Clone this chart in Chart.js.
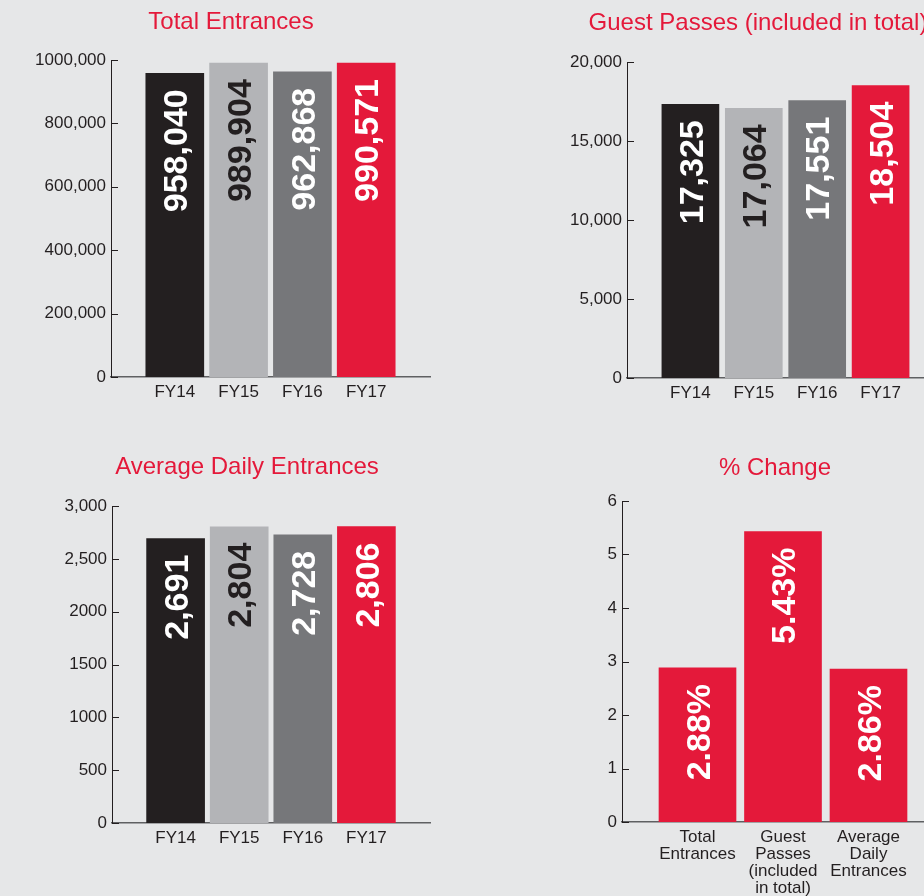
<!DOCTYPE html>
<html>
<head>
<meta charset="utf-8">
<script src="https://cdn.jsdelivr.net/npm/chart.js@4.4.1/dist/chart.umd.min.js"></script>
<style>
  body { margin: 0; width: 924px; height: 896px; overflow: hidden; background: #e6e7e8; position: relative; }
  canvas { position: absolute; }
</style>
</head>
<body>
<canvas id="totalChart"></canvas>
<canvas id="guestChart"></canvas>
<canvas id="dailyChart"></canvas>
<canvas id="changeChart"></canvas>
<script>
// Values
const years = ['FY14', 'FY15', 'FY16', 'FY17'];
const totalEntrances = [958040, 989904, 962868, 990571];
const guestPasses = [17325, 17064, 17551, 18504];
const dailyEntrances = [2691, 2804, 2728, 2806];
const changeCategories = [['Total', 'Entrances'], ['Guest', 'Passes', '(included', 'in total)'], ['Average', 'Daily', 'Entrances']];
const changePercent = [2.88, 5.43, 2.86];

// Tick labels as printed (note the odd "1000,000" / "2000" formatting)
const totalTicks = ['0', '200,000', '400,000', '600,000', '800,000', '1000,000'];
const guestTicks = ['0', '5,000', '10,000', '15,000', '20,000'];
const dailyTicks = ['0', '500', '1000', '1500', '2000', '2,500', '3,000'];
const changeTicks = ['0', '1', '2', '3', '4', '5', '6'];

const RED = '#e4193a';
const INK = '#231f20';
const yearColors = [INK, '#b3b4b7', '#76777a', RED];
const yearTextColors = ['#ffffff', INK, '#ffffff', '#ffffff'];
const FONT = "'Liberation Sans', Arial, sans-serif";

Chart.defaults.font.family = FONT;
Chart.defaults.color = INK;
Chart.defaults.animation = false;

// short tick marks that point into the plot
const innerTicks = {
    id: 'innerTicks',
    afterDraw(chart) {
        const y = chart.scales.y;
        const ctx = chart.ctx;
        const left = chart.chartArea.left;
        ctx.save();
        ctx.strokeStyle = INK;
        ctx.lineWidth = 1;
        y.ticks.forEach(t => {
            const py = Math.round(y.getPixelForValue(t.value)) + 0.5;
            ctx.beginPath();
            ctx.moveTo(left, py);
            ctx.lineTo(left + 7, py);
            ctx.stroke();
        });
        ctx.restore();
    }
};

// big value written up each bar, just under its top
const barValues = {
    id: 'barValues',
    afterDatasetsDraw(chart) {
        const ctx = chart.ctx;
        const ds = chart.data.datasets[0];
        const meta = chart.getDatasetMeta(0);
        const size = 34;
        ctx.save();
        ctx.font = 'bold ' + size + 'px ' + FONT;
        ctx.textAlign = 'right';
        ctx.textBaseline = 'alphabetic';
        meta.data.forEach((bar, i) => {
            ctx.save();
            ctx.translate(bar.x, bar.y + 16);
            ctx.rotate(-Math.PI / 2);
            ctx.fillStyle = ds.textColors[i];
            ctx.fillText(ds.format(ds.data[i].y), 0, size * 0.358);
            ctx.restore();
        });
        ctx.restore();
    }
};

function makeChart(cfg) {
    const canvas = document.getElementById(cfg.id);
    canvas.width = cfg.box.width;
    canvas.height = cfg.box.height;
    canvas.style.left = cfg.box.left + 'px';
    canvas.style.top = cfg.box.top + 'px';

    const titleSize = 24;
    const lineH = titleSize * 1.2;
    const padTop = cfg.titleY - cfg.box.top - lineH / 2;
    const padBottom = cfg.area.top - cfg.box.top - padTop - lineH;
    const rightGap = cfg.box.left + cfg.box.width - cfg.area.right;

    return new Chart(canvas, {
        type: 'bar',
        data: {
            datasets: [{
                data: cfg.values.map((v, i) => ({ x: i, y: v })),
                backgroundColor: cfg.colors,
                barThickness: cfg.barWidth,
                borderWidth: 0,
                textColors: cfg.textColors,
                format: cfg.format
            }]
        },
        options: {
            responsive: false,
            layout: { padding: 0 },
            plugins: {
                legend: { display: false },
                tooltip: { enabled: false },
                title: {
                    display: true,
                    text: cfg.title,
                    color: RED,
                    font: { size: titleSize, weight: 'normal', lineHeight: 1.2 },
                    padding: { top: padTop, bottom: padBottom }
                }
            },
            scales: {
                x: {
                    type: 'linear',
                    offset: false,
                    min: cfg.xMin,
                    max: cfg.xMax,
                    grid: { display: false, drawTicks: false },
                    border: { display: true, color: '#5f6062', width: 1.5 },
                    afterBuildTicks: s => { s.ticks = cfg.labels.map((l, i) => ({ value: i })); },
                    afterFit: s => { s.height = cfg.box.top + cfg.box.height - cfg.area.bottom; },
                    ticks: {
                        callback: v => cfg.labels[v],
                        padding: 6.5,
                        maxRotation: 0,
                        autoSkip: false,
                        color: INK,
                        font: { size: 17, lineHeight: 1.0 }
                    }
                },
                y: {
                    min: 0,
                    max: cfg.step * (cfg.ticks.length - 1),
                    afterBuildTicks: s => { s.ticks = cfg.ticks.map((t, i) => ({ value: i * cfg.step })); },
                    afterFit: s => { s.width = cfg.area.left - cfg.box.left; },
                    grid: { display: false, drawTicks: false },
                    border: { display: true, color: INK, width: 1 },
                    ticks: {
                        callback: v => cfg.ticks[Math.round(v / cfg.step)],
                        padding: 5,
                        color: INK,
                        font: { size: 17 }
                    }
                },
                // empty box on the right so the plot ends where the print does
                // while the title stays centred on the whole canvas
                pad: {
                    position: 'right',
                    grid: { display: false, drawTicks: false },
                    border: { display: false },
                    ticks: { display: false },
                    afterFit: s => { s.width = rightGap; }
                }
            }
        },
        plugins: [innerTicks, barValues]
    });
}

const commas = v => v.toLocaleString('en-US');

makeChart({
    id: 'totalChart', title: 'Total Entrances',
    box: { left: 0, top: 0, width: 462, height: 417 },
    area: { left: 111, right: 430, top: 60, bottom: 377 },
    titleY: 22, xMin: -1, xMax: 4, barWidth: 58,
    labels: years, values: totalEntrances, ticks: totalTicks, step: 200000,
    colors: yearColors, textColors: yearTextColors, format: commas
});

makeChart({
    id: 'guestChart', title: 'Guest Passes (included in total)',
    box: { left: 516, top: 0, width: 484, height: 417 },
    area: { left: 627, right: 944, top: 62, bottom: 378 },
    titleY: 23, xMin: -1, xMax: 4, barWidth: 57,
    labels: years, values: guestPasses, ticks: guestTicks, step: 5000,
    colors: yearColors, textColors: yearTextColors, format: commas
});

makeChart({
    id: 'dailyChart', title: 'Average Daily Entrances',
    box: { left: 0, top: 440, width: 494, height: 456 },
    area: { left: 112, right: 430, top: 506, bottom: 823 },
    titleY: 467, xMin: -1, xMax: 4, barWidth: 58,
    labels: years, values: dailyEntrances, ticks: dailyTicks, step: 500,
    colors: yearColors, textColors: yearTextColors, format: commas
});

makeChart({
    id: 'changeChart', title: '% Change',
    box: { left: 562, top: 440, width: 426, height: 456 },
    area: { left: 622, right: 944, top: 501, bottom: 822 },
    titleY: 468, xMin: -0.883, xMax: 2.883, barWidth: 77,
    labels: changeCategories, values: changePercent, ticks: changeTicks, step: 1,
    colors: RED, textColors: ['#ffffff', '#ffffff', '#ffffff'], format: v => v.toFixed(2) + '%'
});
</script>
</body>
</html>
